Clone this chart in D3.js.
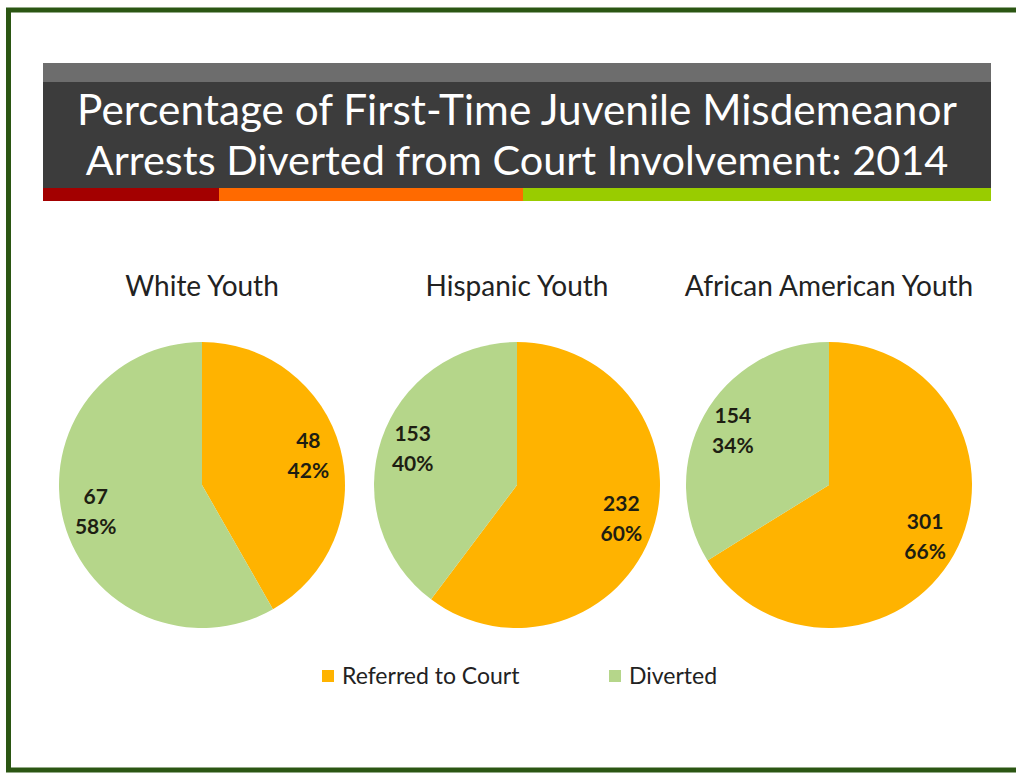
<!DOCTYPE html>
<html>
<head>
<meta charset="utf-8">
<script src="https://cdn.jsdelivr.net/npm/d3@7"></script>
<style>
  html, body { margin: 0; padding: 0; background: #fff; }
  svg { display: block; }
</style>
</head>
<body>
<script>
// data
const groups = ["White Youth", "Hispanic Youth", "African American Youth"];
const categories = ["Referred to Court", "Diverted"];
const referred = [48, 232, 301];
const diverted = [67, 153, 154];
const titleLines = ["Percentage of First-Time Juvenile Misdemeanor", "Arrests Diverted from Court Involvement: 2014"];

const width = 1016, height = 773;
const font = "Lato, 'Open Sans', sans-serif";
const color = d3.scaleOrdinal().domain(categories).range(["#ffb300", "#b5d68a"]);

const svg = d3.select("body").append("svg")
  .attr("width", width)
  .attr("height", height);

// green frame
svg.append("rect")
  .attr("x", 8.5).attr("y", 10)
  .attr("width", 1020).attr("height", 760)
  .attr("fill", "none")
  .attr("stroke", "#2b5613")
  .attr("stroke-width", 5);

// title box
const tx0 = 43, tx1 = 991;
svg.append("rect").attr("x", tx0).attr("y", 63).attr("width", tx1 - tx0).attr("height", 20).attr("fill", "#6d6d6d");
svg.append("rect").attr("x", tx0).attr("y", 82).attr("width", tx1 - tx0).attr("height", 107).attr("fill", "#3c3c3c");
const strip = [[tx0, 219, "#a30000"], [219, 523, "#ff6a00"], [523, tx1, "#99cc00"]];
svg.selectAll("rect.strip").data(strip).enter().append("rect")
  .attr("class", "strip")
  .attr("x", d => d[0]).attr("y", 188)
  .attr("width", d => d[1] - d[0]).attr("height", 13)
  .attr("fill", d => d[2]);

// widths of the two title lines in the picture
const titleWidths = [880, 863];
svg.selectAll("text.title").data(titleLines).enter().append("text")
  .attr("class", "title")
  .attr("x", 517)
  .attr("y", (d, i) => 125 + i * 50)
  .attr("text-anchor", "middle")
  .attr("fill", "#ffffff")
  .attr("font-family", font)
  .attr("font-size", 40)
  .text(d => d)
  .each(function(d, i) {
    const w = this.getComputedTextLength();
    d3.select(this).attr("font-size", 40 * titleWidths[i] / w);
  });

// pies
const centers = d3.scalePoint().domain(groups).range([202, 829]);
const cy = 485, r = 143;
const pie = d3.pie().sort(null).value(d => d.value);
const arc = d3.arc().innerRadius(0).outerRadius(r);
const labelArc = d3.arc().innerRadius(110).outerRadius(110);

groups.forEach((g, i) => {
  const vals = [
    { cat: categories[0], value: referred[i] },
    { cat: categories[1], value: diverted[i] }
  ];
  const total = d3.sum(vals, d => d.value);
  const cx = g === "Hispanic Youth" ? 517 : centers(g);
  const gp = svg.append("g").attr("transform", `translate(${cx},${cy})`);

  svg.append("text")
    .attr("x", cx).attr("y", 296)
    .attr("text-anchor", "middle")
    .attr("fill", "#222")
    .attr("font-family", font)
    .attr("font-size", 28)
    .text(g);

  const arcs = pie(vals);
  gp.selectAll("path").data(arcs).enter().append("path")
    .attr("d", arc)
    .attr("fill", d => color(d.data.cat));

  const lab = gp.selectAll("text").data(arcs).enter().append("text")
    .attr("transform", d => `translate(${labelArc.centroid(d)})`)
    .attr("text-anchor", "middle")
    .attr("fill", "#1e1e12")
    .attr("font-family", font)
    .attr("font-weight", "bold")
    .attr("font-size", 21);
  lab.append("tspan").attr("x", 0).attr("dy", -9).text(d => d.data.value);
  lab.append("tspan").attr("x", 0).attr("dy", 30)
    .text(d => Math.round(d.data.value / total * 100) + "%");
});

// legend
const legendX = [322, 609];
const leg = svg.selectAll("g.leg").data(categories).enter().append("g")
  .attr("class", "leg")
  .attr("transform", (d, i) => `translate(${legendX[i]},670)`);
leg.append("rect").attr("width", 12).attr("height", 12).attr("fill", d => color(d));
leg.append("text")
  .attr("x", 20).attr("y", 14)
  .attr("fill", "#222")
  .attr("font-family", font)
  .attr("font-size", 23)
  .text(d => d);
</script>
</body>
</html>
